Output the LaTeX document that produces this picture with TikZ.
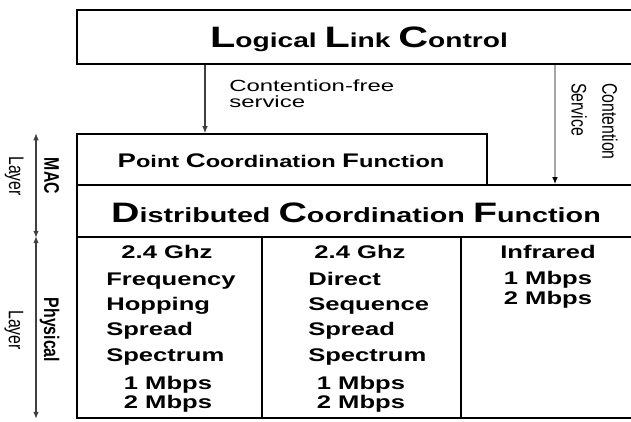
\documentclass[tikz,border=0pt]{standalone}
\usepackage{fontspec}
\setmainfont{Liberation Sans}
\newfontfamily\widesans[FakeStretch=1.4]{Liberation Sans}
\newfontfamily\widelight[FakeStretch=1.48]{Liberation Sans}
\newfontfamily\tallsans[FakeStretch=0.75]{Liberation Sans}
\usetikzlibrary{positioning,arrows.meta}
\tikzset{>=latex}
\newcommand\bigini[2]{{\fontsize{#1}{#1}\selectfont #2}}

\tikzset{
  layerbox/.style={draw, line width=1.1pt, inner sep=0pt},
  titletext/.style={anchor=base, inner sep=0pt, font=\widesans\bfseries},
  cellc/.style={anchor=base, inner sep=0pt, font=\widesans\bfseries\fontsize{13pt}{15pt}\selectfont},
  celll/.style={cellc, anchor=base west},
  sidetext/.style={inner sep=0pt, rotate=-90, align=center, font=\tallsans\fontsize{15pt}{25pt}\selectfont}
}

\begin{document}
\begin{tikzpicture}[x=0.025cm, y=-0.025cm]
\useasboundingbox (0,0) rectangle (631,421);
\clip (0,0) rectangle (631,421);

% layer boxes
\node[layerbox, minimum width=14.075cm, minimum height=1.35cm] (llc) at (358.5,37) {};
\node[layerbox, minimum width=10.25cm, minimum height=1.275cm] (pcf) at (282,159.5) {};
\node[layerbox, minimum width=14.075cm, minimum height=1.3cm] (dcf) at (358.5,211) {};
\node[layerbox, minimum width=4.625cm, minimum height=4.525cm] (fhss) at (169.5,327.5) {};
\node[layerbox, minimum width=4.975cm, minimum height=4.525cm] (dsss) at (361.5,327.5) {};
\node[layerbox, minimum width=4.475cm, minimum height=4.525cm] (irda) at (550.5,327.5) {};

% box titles
\node[titletext, font=\widesans\bfseries\fontsize{14.3pt}{18pt}\selectfont] (llct) at (359,47)
  {\bigini{21pt}{L}ogical \bigini{21pt}{L}ink \bigini{21pt}{C}ontrol};
\node[titletext, font=\widesans\bfseries\fontsize{12pt}{14pt}\selectfont] (pcft) at (281,167)
  {\bigini{14pt}{P}oint \bigini{14pt}{C}oordination \bigini{14pt}{F}unction};
\node[titletext, font=\widesans\bfseries\fontsize{14.6pt}{18pt}\selectfont] (dcft) at (356,222)
  {\bigini{20pt}{D}istributed \bigini{20pt}{C}oordination \bigini{20pt}{F}unction};

% services
\coordinate (cf) at (205,0);
\coordinate (cs) at (555,0);
\draw[-{Latex[length=5pt,width=4pt]}, line width=0.8pt, black!75] (cf |- llc.south) -- (cf |- pcf.north);
\draw[-{Latex[length=5pt,width=4pt,color=black]}, line width=1.3pt, black!35] (cs |- llc.south) -- (cs |- dcf.north);
\node[anchor=north west, inner sep=0pt, align=left, font=\widelight\fontsize{11.5pt}{11pt}\selectfont] (cft) at (229,80)
  {Contention-free\\service};
\node[anchor=north west, inner sep=0pt, align=left, rotate=-90, font=\tallsans\fontsize{15pt}{22pt}\selectfont] (cst) at (618,83)
  {Contention\\Service};

% physical columns
\node[cellc] (fh1) at (167,258) {2.4 Ghz};
\node[celll] (fh2) at (106,285) {Frequency};
\node[celll] (fh3) at (106,310) {Hopping};
\node[celll] (fh4) at (106,335) {Spread};
\node[celll] (fh5) at (106,361) {Spectrum};
\node[cellc] (fh6) at (168,389) {1 Mbps};
\node[cellc] (fh7) at (168,408) {2 Mbps};

\node[cellc] (ds1) at (360,258) {2.4 Ghz};
\node[celll] (ds2) at (308,285) {Direct};
\node[celll] (ds3) at (308,310) {Sequence};
\node[celll] (ds4) at (308,335) {Spread};
\node[celll] (ds5) at (308,361) {Spectrum};
\node[cellc] (ds6) at (361,389) {1 Mbps};
\node[cellc] (ds7) at (361,408) {2 Mbps};

\node[cellc] (ir1) at (548,258) {Infrared};
\node[cellc] (ir2) at (548,284) {1 Mbps};
\node[cellc] (ir3) at (548,304) {2 Mbps};

% layer markers
\coordinate (ax) at (36,0);
\draw[{Latex[length=5pt,width=4pt]}-{Latex[length=5pt,width=4pt]}, line width=0.8pt, black!75] (ax |- pcf.north) -- (ax |- dcf.south);
\draw[{Latex[length=5pt,width=4pt]}-{Latex[length=5pt,width=4pt]}, line width=0.8pt, black!75] (ax |- fhss.north) -- (ax |- fhss.south);
\node[sidetext] (mac) at (32,176) {\textbf{MAC}\\Layer};
\node[sidetext] (phy) at (32,330) {\textbf{Physical}\\Layer};
\end{tikzpicture}
\end{document}
